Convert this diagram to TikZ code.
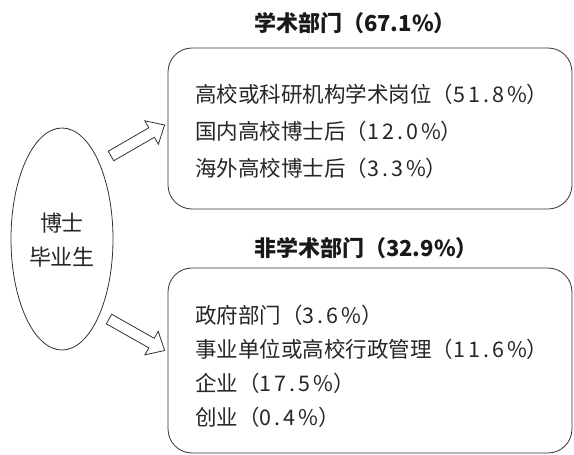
\documentclass[tikz,border=0pt]{standalone}
\usepackage{fontspec}
\setmainfont{Noto Sans CJK SC}
\usetikzlibrary{shapes.geometric,calc}
\newcommand\pct[1]{{\addfontfeatures{LetterSpace=14}#1}}
\newcommand\blockarrow[2]{%
  \coordinate (#1base) at ($(#2)!15pt!(#1)$);
  \draw[blk] ($(#1)!5.5pt!90:(#2)$) -- ($(#1base)!5.5pt!90:(#2)$) -- ($(#1base)!13.5pt!90:(#2)$) -- (#2)
     -- ($(#1base)!13.5pt!-90:(#2)$) -- ($(#1base)!5.5pt!-90:(#2)$) -- ($(#1)!5.5pt!-90:(#2)$) -- cycle;}
\begin{document}
\begin{tikzpicture}[x=1pt,y=-1pt,
  box/.style={draw=black!80, line width=0.8pt, rounded corners=24pt, minimum width=404pt, inner sep=0pt},
  item/.style={anchor=west, font=\fontsize{21.5}{21.5}\selectfont, text=black!85, inner sep=0pt},
  title/.style={font=\fontsize{22}{22}\selectfont\bfseries, text=black!90, inner sep=0pt},
  blk/.style={draw=black!80, line width=0.8pt, fill=white, line join=miter}]
\useasboundingbox (0,0) rectangle (574,455);
\fill[white] (0,0) rectangle (574,455);

% ellipse
\node[ellipse, draw=black!80, line width=0.8pt, minimum width=102pt, minimum height=222pt, inner sep=0pt] (grad) at (62,239) {};
\node[font=\fontsize{22}{34}\selectfont, text=black!85, align=center, inner sep=0pt] (gradtext) at (62,240) {博士\\毕业生};

% academic
\node[title] (t1) at (355,23) {学术部门（67.1\%）};
\node[box, minimum height=161pt] (acad) at (370,128.5) {};
\node[item] (a1) at (195,94) {高校或科研机构学术岗位（\pct{51.8\%}）};
\node[item] (a2) at (195,131) {国内高校博士后（\pct{12.0\%}）};
\node[item] (a3) at (195,168) {海外高校博士后（\pct{3.3\%}）};

% non-academic
\node[title] (t2) at (366,248) {非学术部门（32.9\%）};
\node[box, minimum height=185pt] (nonacad) at (370,360.5) {};
\node[item] (b1) at (195,315) {政府部门（\pct{3.6\%}）};
\node[item] (b2) at (195,349) {事业单位或高校行政管理（\pct{11.6\%}）};
\node[item] (b3) at (195,383) {企业（\pct{17.5\%}）};
\node[item] (b4) at (195,417) {创业（\pct{0.4\%}）};

% block arrows
\coordinate (up) at (111,156);
\coordinate (uptip) at ($(acad.west)+(-3,-3.5)$);
\blockarrow{up}{uptip}
\coordinate (dn) at (109,319);
\coordinate (dntip) at ($(nonacad.west)+(-3,-10)$);
\blockarrow{dn}{dntip}
\end{tikzpicture}
\end{document}
